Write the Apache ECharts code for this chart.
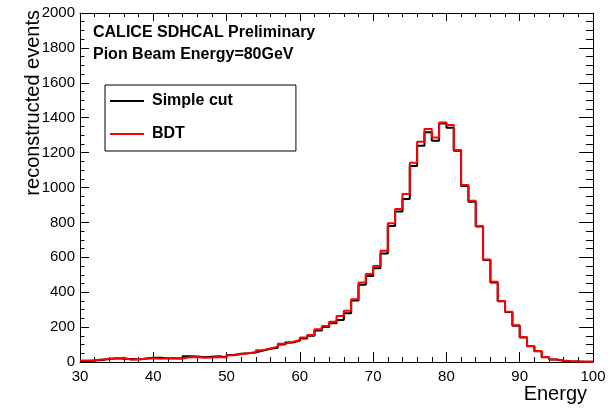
<!DOCTYPE html>
<html>
<head>
<meta charset="utf-8">
<script src="https://cdn.jsdelivr.net/npm/echarts/dist/echarts.min.js"></script>
<style>
html,body{margin:0;padding:0;background:#fff;}
#chart{width:612px;height:411px;}
</style>
</head>
<body>
<div id="chart"></div>
<script>
// Bin left edges (GeV), 1 GeV wide bins
var binEdges = [30,31,32,33,34,35,36,37,38,39,40,41,42,43,44,45,46,47,48,49,
  50,51,52,53,54,55,56,57,58,59,60,61,62,63,64,65,66,67,68,69,
  70,71,72,73,74,75,76,77,78,79,80,81,82,83,84,85,86,87,88,89,
  90,91,92,93,94,95,96,97,98,99];
var binUpperEdge = 100;

var simpleCut = [6,8,12,17,22,18,17,15,20,25,25,22,22,20,33,32,27,30,33,27,
  40,47,50,55,66,76,82,100,112,122,134,150,180,200,222,241,279,352,442,493,
  537,622,780,862,934,1123,1239,1316,1268,1367,1343,1211,1008,918,776,584,456,348,286,208,
  141,90,62,27,14,7,4,3,2,1];

var bdt = [8,10,14,18,20,24,13,16,18,21,19,21,20,20,27,28,25,26,28,26,
  38,45,50,56,68,78,87,105,115,126,141,155,188,207,231,264,293,360,456,504,
  550,638,795,877,963,1142,1262,1335,1287,1373,1358,1215,1014,924,779,588,460,350,288,210,
  143,92,63,28,15,8,5,3,2,2];

var xTicks = {min:30, max:100, interval:10};
var yTicks = {min:0, max:2000, interval:200};

var seriesNames = ['Simple cut', 'BDT'];
var infoLines = ['CALICE SDHCAL Preliminary', 'Pion Beam Energy=80GeV'];
var xTitle = 'Energy';
var yTitle = 'reconstructed events';

function histPoints(vals){
  var pts = binEdges.map(function(e,i){ return [e, vals[i]]; });
  pts.push([binUpperEdge, vals[vals.length-1]]);
  return pts;
}

var FONT = '"Liberation Sans", Arial, Helvetica, sans-serif';
function plain(v){ return String(v); }

function xAx(pos, showLabel, major, minor){
  return {
    type:'value', position:pos, min:xTicks.min, max:xTicks.max, interval:xTicks.interval,
    axisLine:{show:true, onZero:false, lineStyle:{color:'#000', width:1}},
    axisTick:{show:true, inside:true, length:major, lineStyle:{color:'#000', width:1}},
    minorTick:{show:true, splitNumber:5, length:minor, lineStyle:{color:'#000', width:1}},
    splitLine:{show:false},
    axisLabel:{show:showLabel, color:'#000', fontSize:15, fontFamily:FONT, margin:7, formatter:plain}
  };
}
function yAx(pos, showLabel, major, minor){
  return {
    type:'value', position:pos, min:yTicks.min, max:yTicks.max, interval:yTicks.interval,
    axisLine:{show:true, onZero:false, lineStyle:{color:'#000', width:1}},
    axisTick:{show:true, inside:true, length:major, lineStyle:{color:'#000', width:1}},
    minorTick:{show:true, splitNumber:4, length:minor, lineStyle:{color:'#000', width:1}},
    splitLine:{show:false},
    axisLabel:{show:showLabel, color:'#000', fontSize:15, fontFamily:FONT, margin:5, formatter:plain}
  };
}

var chart = echarts.init(document.getElementById('chart'), null, {renderer:'canvas'});
chart.setOption({
  animation:false,
  backgroundColor:'#fff',
  grid:{left:80, right:19, top:13, bottom:49},
  xAxis:[xAx('bottom', true, 10, 5), xAx('top', false, 8, 4)],
  yAxis:[yAx('left', true, 9, 4.5), yAx('right', false, 14, 7)],
  legend:{
    orient:'vertical', left:105, top:85,
    data:seriesNames,
    icon:'rect',
    itemWidth:34, itemHeight:2, itemGap:17,
    padding:[8,63,9,5],
    borderColor:'#000', borderWidth:1, borderRadius:0, backgroundColor:'#fff',
    textStyle:{fontSize:16, lineHeight:16, fontWeight:'bold', fontFamily:FONT, color:'#000', padding:[0,0,0,3]}
  },
  series:[
    {name:seriesNames[0], type:'line', step:'end', symbol:'none', data:histPoints(simpleCut),
     xAxisIndex:0, yAxisIndex:0, color:'#000', lineStyle:{color:'#000', width:2}},
    {name:seriesNames[1], type:'line', step:'end', symbol:'none', data:histPoints(bdt),
     xAxisIndex:0, yAxisIndex:0, color:'#ff0000', lineStyle:{color:'#ff0000', width:2}}
  ],
  graphic:[
    {type:'text', x:93, y:33, style:{text:infoLines[0], font:'bold 16px '+FONT, fill:'#000', align:'left', verticalAlign:'middle'}},
    {type:'text', x:93, y:55, style:{text:infoLines[1], font:'bold 16px '+FONT, fill:'#000', align:'left', verticalAlign:'middle'}},
    {type:'text', x:587, y:394, style:{text:xTitle, font:'20px '+FONT, fill:'#000', align:'right', verticalAlign:'middle'}},
    {type:'text', x:33, y:10, rotation:Math.PI/2, style:{text:yTitle, font:'20px '+FONT, fill:'#000', align:'right', verticalAlign:'middle'}}
  ]
});
</script>
</body>
</html>
